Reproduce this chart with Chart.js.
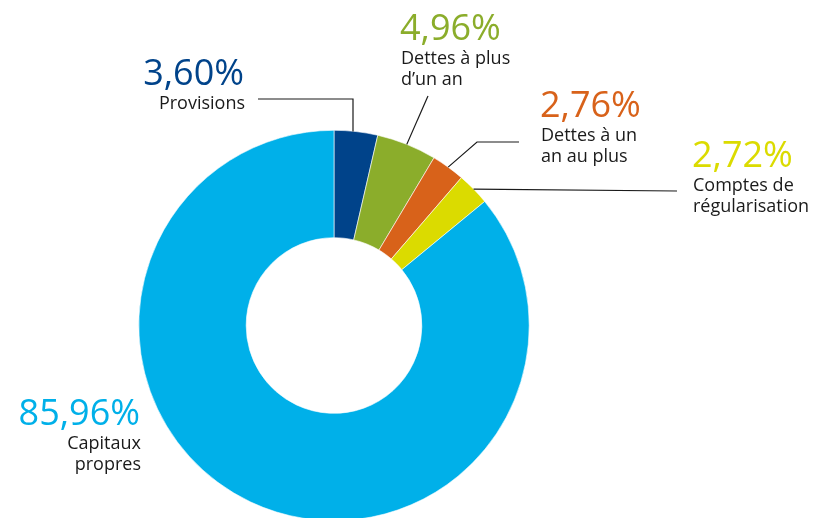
<!DOCTYPE html>
<html>
<head>
<meta charset="utf-8">
<script src="https://cdn.jsdelivr.net/npm/chart.js@4/dist/chart.umd.min.js"></script>
<style>
  html, body { margin: 0; padding: 0; background: #fff; overflow: hidden; }
  #wrap { width: 817px; height: 530px; }
</style>
</head>
<body>
<div id="wrap"><canvas id="bilan" width="817" height="530"></canvas></div>
<script>
// passif du bilan, en %
const categories = ['Provisions', 'Dettes à plus d\u2019un an', 'Dettes à un an au plus', 'Comptes de régularisation', 'Capitaux propres']
const values = [3.60, 4.96, 2.76, 2.72, 85.96]
const valueLabels = ['3,60%', '4,96%', '2,76%', '2,72%', '85,96%']
const labelLines = [['Provisions'], ['Dettes à plus', 'd\u2019un an'], ['Dettes à un', 'an au plus'], ['Comptes de', 'régularisation'], ['Capitaux', 'propres']]
const colors = ['#00438a', '#8bad2b', '#d8621a', '#dbdb00', '#00b0e9']

// where each label sits and how its leader line runs (x, y in px)
const layout = [
  { x: 244, y: 85, align: 'right', line: [[258, 99], [353, 99]] },
  { x: 400, y: 40, align: 'left', line: [[428, 96]] },
  { x: 540, y: 117, align: 'left', line: [[519, 142], [477, 142]] },
  { x: 692, y: 167, align: 'left', line: [[677, 191]] },
  { x: 140, y: 425, align: 'right', line: null }
]

const calloutPlugin = {
  id: 'callouts',
  afterDraw(chart) {
    const ctx = chart.ctx
    const arcs = chart.getDatasetMeta(0).data
    ctx.save()
    arcs.forEach((arc, i) => {
      const l = layout[i]
      // leader line
      if (l.line) {
        const mid = (arc.startAngle + arc.endAngle) / 2
        let ax = arc.x + Math.cos(mid) * arc.outerRadius
        let ay = arc.y + Math.sin(mid) * arc.outerRadius
        const pts = l.line.slice()
        // provisions: vertical drop from the elbow
        if (i === 0) { ax = pts[1][0] }
        pts.push([ax, ay])
        ctx.beginPath()
        ctx.strokeStyle = '#1a1a1a'
        ctx.lineWidth = 1.2
        ctx.moveTo(pts[0][0], pts[0][1])
        for (let k = 1; k < pts.length; k++) ctx.lineTo(pts[k][0], pts[k][1])
        ctx.stroke()
      }
      // value
      ctx.textAlign = l.align
      ctx.textBaseline = 'alphabetic'
      ctx.fillStyle = colors[i]
      ctx.font = '36px "Open Sans"'
      ctx.fillText(valueLabels[i], l.x, l.y)
      // label
      ctx.fillStyle = '#1a1a1a'
      ctx.font = '18px "Open Sans"'
      labelLines[i].forEach((txt, j) => {
        ctx.fillText(txt, l.x + 1, l.y + 24 + j * 21)
      })
    })
    ctx.restore()
  }
}

const ctx = document.querySelector('#bilan')
const bilanChart = new Chart(ctx, {
  type: 'doughnut',
  data: {
    labels: categories,
    datasets: [{
      data: values,
      backgroundColor: colors,
      borderColor: '#ffffff',
      borderWidth: 0.6
    }]
  },
  options: {
    responsive: false,
    animation: false,
    cutout: '45%',
    layout: { padding: { left: 137, right: 286, top: 130, bottom: 9 } },
    plugins: {
      legend: { display: false },
      tooltip: { enabled: false }
    }
  },
  plugins: [calloutPlugin]
})
</script>
</body>
</html>
